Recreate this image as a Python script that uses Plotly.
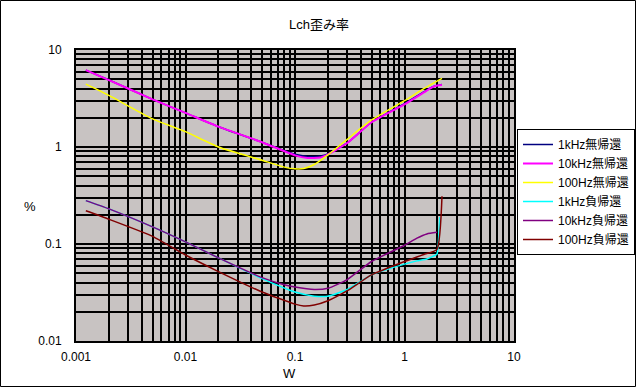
import plotly.graph_objects as go

# ---- data ----
series_names = ["1kHz無帰還", "10kHz無帰還", "100Hz無帰還", "1kHz負帰還", "10kHz負帰還", "100Hz負帰還"]

x_1k_nfb0 = [0.00123, 0.002, 0.005, 0.01, 0.02, 0.05, 0.1, 0.13, 0.17, 0.2, 0.3, 0.5, 1.0, 1.5, 1.8, 2.0, 2.2]
y_1k_nfb0 = [6.2, 4.9, 3.1, 2.25, 1.62, 1.12, 0.84, 0.8, 0.81, 0.85, 1.1, 1.8, 2.8, 3.7, 4.15, 4.3, 4.4]

x_10k_nfb0 = [0.00123, 0.002, 0.005, 0.01, 0.02, 0.05, 0.1, 0.13, 0.17, 0.2, 0.3, 0.5, 1.0, 1.5, 1.8, 2.0, 2.2]
y_10k_nfb0 = [6.2, 4.9, 3.1, 2.25, 1.62, 1.12, 0.82, 0.77, 0.78, 0.84, 1.1, 1.8, 2.75, 3.65, 4.15, 4.3, 4.35]

x_100_nfb0 = [0.00123, 0.002, 0.005, 0.01, 0.02, 0.05, 0.08, 0.1, 0.12, 0.15, 0.2, 0.24, 0.3, 0.5, 1.0, 1.5, 2.0, 2.2]
y_100_nfb0 = [4.45, 3.4, 1.95, 1.44, 1.0, 0.73, 0.62, 0.595, 0.6, 0.66, 0.83, 0.98, 1.2, 1.9, 3.0, 4.0, 4.8, 5.1]

x_1k_nfb = [0.00123, 0.002, 0.005, 0.01, 0.02, 0.05, 0.1, 0.15, 0.2, 0.3, 0.5, 1.0, 1.3, 1.6, 1.98, 2.02, 2.1]
y_1k_nfb = [0.28, 0.23, 0.15, 0.105, 0.072, 0.044, 0.032, 0.029, 0.029, 0.034, 0.048, 0.062, 0.067, 0.07, 0.079, 0.09, 0.19]

x_10k_nfb = [0.00123, 0.002, 0.005, 0.01, 0.02, 0.05, 0.08, 0.1, 0.15, 0.2, 0.3, 0.5, 1.0, 1.3, 1.6, 1.98]
y_10k_nfb = [0.28, 0.23, 0.15, 0.105, 0.072, 0.045, 0.038, 0.036, 0.034, 0.035, 0.043, 0.066, 0.097, 0.115, 0.127, 0.132]

x_100_nfb = [0.00123, 0.002, 0.005, 0.01, 0.02, 0.05, 0.1, 0.12, 0.15, 0.2, 0.3, 0.5, 1.0, 1.5, 1.98, 2.2]
y_100_nfb = [0.22, 0.18, 0.12, 0.077, 0.052, 0.032, 0.024, 0.023, 0.0235, 0.026, 0.033, 0.048, 0.066, 0.078, 0.088, 0.31]

x_tick_labels = ["0.001", "0.01", "0.1", "1", "10"]
y_tick_labels = ["0.01", "0.1", "1", "10"]

title_text = "Lch歪み率"
x_title = "W"
y_title = "%"

# ---- figure ----
colors = ["#000080", "#FF00FF", "#FFFF00", "#00FFFF", "#800080", "#800000"]
widths = [1.5, 2, 1.5, 1.5, 1.5, 1.5]
xs = [x_1k_nfb0, x_10k_nfb0, x_100_nfb0, x_1k_nfb, x_10k_nfb, x_100_nfb]
ys = [y_1k_nfb0, y_10k_nfb0, y_100_nfb0, y_1k_nfb, y_10k_nfb, y_100_nfb]

FONT = "Liberation Sans, Noto Sans CJK JP, sans-serif"

fig = go.Figure()
for name, x, y, c, w in zip(series_names, xs, ys, colors, widths):
    fig.add_trace(go.Scatter(x=x, y=y, mode="lines", name=name,
                             line=dict(color=c, width=w, shape="spline", smoothing=0.5)))

def log_ticks(lo, hi, labels):
    vals, text = [], []
    for e in range(lo, hi):
        for m in range(1, 10):
            vals.append(m * 10 ** e)
            text.append(labels[e - lo] if m == 1 else "")
    vals.append(10 ** hi)
    text.append(labels[-1])
    return vals, text

xv, xt = log_ticks(-3, 1, x_tick_labels)
yv, yt = log_ticks(-2, 1, y_tick_labels)

L, R, T, B = 76, 122, 50, 46
W, H = 636, 387
pw, ph = W - L - R, H - T - B

fig.update_layout(
    width=W, height=H,
    margin=dict(l=L, r=R, t=T, b=B, pad=0, autoexpand=False),
    paper_bgcolor="white",
    plot_bgcolor="#c8c3c2",
    font=dict(family=FONT, size=12, color="black"),
    showlegend=True,
    legend=dict(xref="container", yref="container", x=517 / W, y=1 - 129 / H,
                xanchor="left", yanchor="top",
                bgcolor="white", bordercolor="black", borderwidth=1,
                font=dict(family=FONT, size=12), tracegroupgap=0, itemwidth=30),
    xaxis=dict(type="log", range=[-3, 1], tickmode="array", tickvals=xv, ticktext=xt,
               showgrid=True, gridcolor="black", gridwidth=2, zeroline=False,
               showline=True, linecolor="black", linewidth=2, mirror=True,
               ticks="", ticklabelstandoff=4, tickfont=dict(size=12)),
    yaxis=dict(type="log", range=[-2, 1], tickmode="array", tickvals=yv, ticktext=yt,
               showgrid=True, gridcolor="black", gridwidth=2, zeroline=False,
               showline=True, linecolor="black", linewidth=2, mirror=True,
               ticks="", ticklabelstandoff=10, tickfont=dict(size=12)),
    annotations=[
        dict(text=title_text, xref="paper", yref="paper", x=(319 - L) / pw, y=(H - B - 24) / ph,
             showarrow=False, xanchor="center", yanchor="middle", font=dict(size=13)),
        dict(text=y_title, xref="paper", yref="paper", x=(30 - L) / pw, y=(H - B - 206) / ph,
             showarrow=False, xanchor="center", yanchor="middle", font=dict(size=13)),
        dict(text=x_title, xref="paper", yref="paper", x=(289 - L) / pw, y=(H - B - 373) / ph,
             showarrow=False, xanchor="center", yanchor="middle", font=dict(size=13)),
    ],
    shapes=[
        dict(type="rect", xref="paper", yref="paper",
             x0=(0.5 - L) / pw, x1=(W - 0.5 - L) / pw,
             y0=(H - B - (H - 0.5)) / ph, y1=(H - B - 0.5) / ph,
             line=dict(color="black", width=1), fillcolor="rgba(0,0,0,0)", layer="above"),
    ],
)

fig.write_html("out.html", config={"displayModeBar": False},
               post_script="document.body.style.margin='0';document.body.style.padding='0';")
